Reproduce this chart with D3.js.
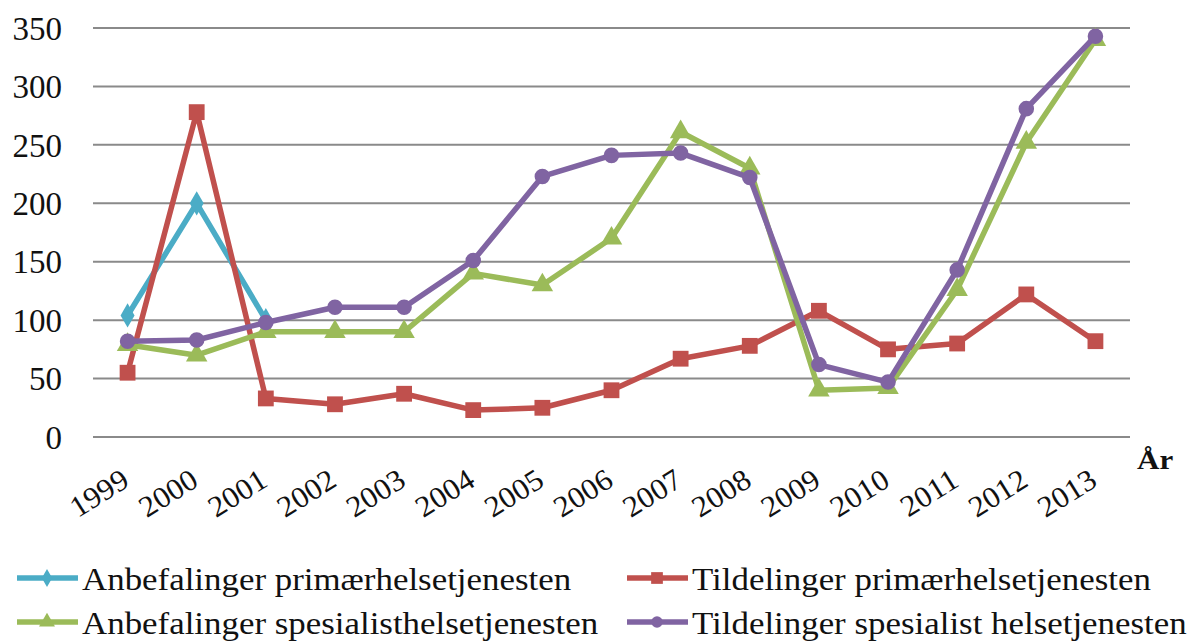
<!DOCTYPE html>
<html><head><meta charset="utf-8">
<script src="https://cdn.jsdelivr.net/npm/d3@7"></script>
<style>body{margin:0;background:#fff}svg{display:block}</style>
</head><body>
<script>
const years = ["1999","2000","2001","2002","2003","2004","2005","2006","2007","2008","2009","2010","2011","2012","2013"];
const anbPrim = [104, 200, 100, null, null, null, null, null, null, null, null, null, null, null, null];
const tilPrim = [55, 278, 33, 28, 37, 23, 25, 40, 67, 78, 108, 75, 80, 122, 82];
const anbSpes = [79, 70, 90, 90, 90, 140, 130, 170, 261, 230, 40, 42, 126, 252, 340];
const tilSpes = [82, 83, 98, 111, 111, 151, 223, 241, 243, 222, 62, 47, 143, 281, 343];
const yTicks = [0, 50, 100, 150, 200, 250, 300, 350];
const seriesNames = ["Anbefalinger primærhelsetjenesten","Tildelinger primærhelsetjenesten","Anbefalinger spesialisthelsetjenesten","Tildelinger spesialist helsetjenesten"];

(function(){
const ctx = document.createElement("canvas").getContext("2d");
const probe = "Anbefalinger primærhelsetjenesten 1999";
function w(f){ ctx.font = "30px " + f; return ctx.measureText(probe).width; }
const ws = w("sans-serif");
const cands = ["Liberation Serif","Tinos","Times New Roman","DejaVu Serif","Noto Serif","FreeSerif","Nimbus Roman"];
let font = "serif";
for (const c of cands) {
  const a = w(`"${c}", monospace`), b = w(`"${c}", sans-serif`);
  if (Math.abs(a - b) < 0.5 && Math.abs(a - ws) > 0.5) { font = `"${c}"`; break; }
}

const W = 1195, H = 641;
const svg = d3.select("body").append("svg").attr("width", W).attr("height", H)
  .style("font-family", font + ", serif");
const pL = 93, pR = 1130, pT = 28, pB = 437;
const x = d3.scalePoint().domain(years).range([pL, pR]).padding(0.5);
const y = d3.scaleLinear().domain([0, 350]).range([pB, pT]);

svg.append("g").selectAll("line").data(yTicks).join("line")
  .attr("x1", pL).attr("x2", pR).attr("y1", d => y(d)).attr("y2", d => y(d))
  .attr("stroke", "#8a8a8a").attr("stroke-width", 2);

const yAxis = d3.axisLeft(y).tickValues(yTicks).tickSize(0).tickPadding(0);
const gy = svg.append("g").attr("transform", `translate(62,0)`).call(yAxis);
gy.select(".domain").remove();
gy.attr("font-family", null);
gy.selectAll("text").attr("font-size", 33).attr("fill", "#111").attr("dy", "0.34em");

const xAxis = d3.axisBottom(x).tickSize(0).tickPadding(0);
const gx = svg.append("g").attr("transform", `translate(0,${pB})`).call(xAxis);
gx.select(".domain").remove();
gx.attr("font-family", null);
gx.selectAll("text").attr("font-size", 30).attr("fill", "#111")
  .attr("text-anchor", "end").attr("dy", null).attr("y", 0)
  .attr("transform", "translate(3,48) rotate(-32) scale(1.05,1)");

svg.append("text").attr("transform", "translate(1137,469) scale(1.15,1)").attr("font-size", 27)
  .attr("font-weight", "bold").attr("fill", "#111").text("År");

const colors = ["#4bacc6", "#c0504d", "#9bbb59", "#8064a2"];
const data = [anbPrim, tilPrim, anbSpes, tilSpes];
const shapes = [d3.symbolDiamond, d3.symbolSquare, d3.symbolTriangle, d3.symbolCircle];
const sizes = [170, 250, 200, 190];

const line = d3.line().defined(d => d != null).x((d, i) => x(years[i])).y(d => y(d));
data.forEach((s, k) => {
  const g = svg.append("g");
  g.append("path").attr("d", line(s)).attr("fill", "none").attr("stroke", colors[k])
    .attr("stroke-width", 5.5).attr("stroke-linejoin", "round");
  g.selectAll("path.m").data(s.map((v, i) => ({v, i})).filter(d => d.v != null)).join("path")
    .attr("class", "m")
    .attr("d", d3.symbol(shapes[k], sizes[k]))
    .attr("transform", d => `translate(${x(years[d.i])},${y(d.v)})`)
    .attr("fill", colors[k]);
});

const leg = [
  {k:0, x:17, y:578}, {k:1, x:627, y:578}, {k:2, x:17, y:622}, {k:3, x:627, y:622}
];
leg.forEach(l => {
  const g = svg.append("g").attr("transform", `translate(${l.x},${l.y})`);
  g.append("line").attr("x1", 0).attr("x2", 61).attr("stroke", colors[l.k]).attr("stroke-width", 5.5);
  g.append("path").attr("d", d3.symbol(shapes[l.k], sizes[l.k]*0.55)).attr("transform", "translate(30,0)").attr("fill", colors[l.k]);
  g.append("text").attr("transform", "translate(65,11.5) scale(1.09,1)").attr("font-size", 32)
    .attr("fill", "#111").text(seriesNames[l.k]);
});
})();
</script>
</body></html>
